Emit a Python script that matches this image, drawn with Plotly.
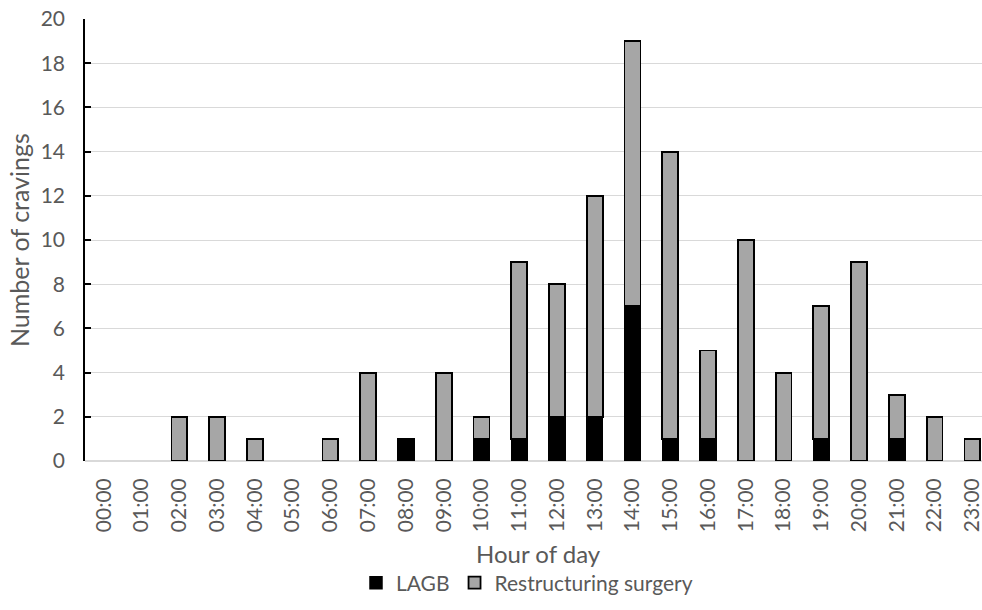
import plotly.graph_objects as go

hours = [f"{h:02d}:00" for h in range(24)]
lagb = [0, 0, 0, 0, 0, 0, 0, 0, 1, 0, 1, 1, 2, 2, 7, 1, 1, 0, 0, 1, 0, 1, 0, 0]
restructuring = [0, 0, 2, 2, 1, 0, 1, 4, 0, 4, 1, 8, 6, 10, 12, 13, 4, 10, 4, 6, 9, 2, 2, 1]
y_ticks = list(range(0, 21, 2))

FONT = "Lato"
TEXT = "#595959"
PLOT_LEFT, PLOT_W, PLOT_TOP, PLOT_H = 85, 897, 19, 442


def blank_zero(values):
    # zero-height segments are left out so no stray outline is drawn
    return [v if v else None for v in values]


def px_x(p):
    return (p - PLOT_LEFT) / PLOT_W


def px_y(p):
    return 1 - (p - PLOT_TOP) / PLOT_H


fig = go.Figure()
fig.add_trace(go.Bar(
    x=hours, y=blank_zero(lagb), name="LAGB",
    marker=dict(color="#000000", line=dict(color="#000000", width=1.5)),
    width=0.42,
))
fig.add_trace(go.Bar(
    x=hours, y=blank_zero(restructuring), name="Restructuring surgery",
    marker=dict(color="#A6A6A6", line=dict(color="#000000", width=1.8)),
    width=0.42,
))

fig.update_layout(
    width=982, height=610,
    margin=dict(l=PLOT_LEFT, r=0, t=PLOT_TOP, b=610 - PLOT_TOP - PLOT_H),
    barmode="stack",
    plot_bgcolor="white", paper_bgcolor="white",
    font=dict(family=FONT, size=21, color=TEXT),
    showlegend=True,
    legend=dict(
        orientation="h", x=px_x(527), y=px_y(583), xanchor="center", yanchor="middle",
        font=dict(family=FONT, size=21, color=TEXT), traceorder="normal",
        itemwidth=30,
    ),
    xaxis=dict(
        type="category", categoryorder="array", categoryarray=hours,
        range=[-0.5, -0.5 + PLOT_W / 37.76],
        tickangle=-90, showgrid=False, showline=False, zeroline=False,
        ticks="", ticklabelstandoff=12,
        tickfont=dict(family=FONT, size=21, color=TEXT),
    ),
    yaxis=dict(
        range=[0, 20], tickvals=y_ticks, showgrid=True, gridcolor="#D9D9D9", gridwidth=1,
        zeroline=True, zerolinecolor="#D9D9D9", zerolinewidth=1.5,
        showline=True, linecolor="#000000", linewidth=1.5,
        ticks="inside", ticklen=6, tickcolor="#000000", tickwidth=1.5,
        ticklabelstandoff=14,
        tickfont=dict(family=FONT, size=21, color=TEXT),
    ),
    annotations=[
        dict(text="Hour of day", xref="paper", yref="paper",
             x=px_x(538), y=px_y(553), xanchor="center", yanchor="middle",
             showarrow=False, font=dict(family=FONT, size=24, color=TEXT)),
        dict(text="Number of cravings", xref="paper", yref="paper",
             x=px_x(19), y=px_y(240), xanchor="center", yanchor="middle",
             textangle=-90, showarrow=False, font=dict(family=FONT, size=25, color=TEXT)),
    ],
)

fig.write_html("out.html")
